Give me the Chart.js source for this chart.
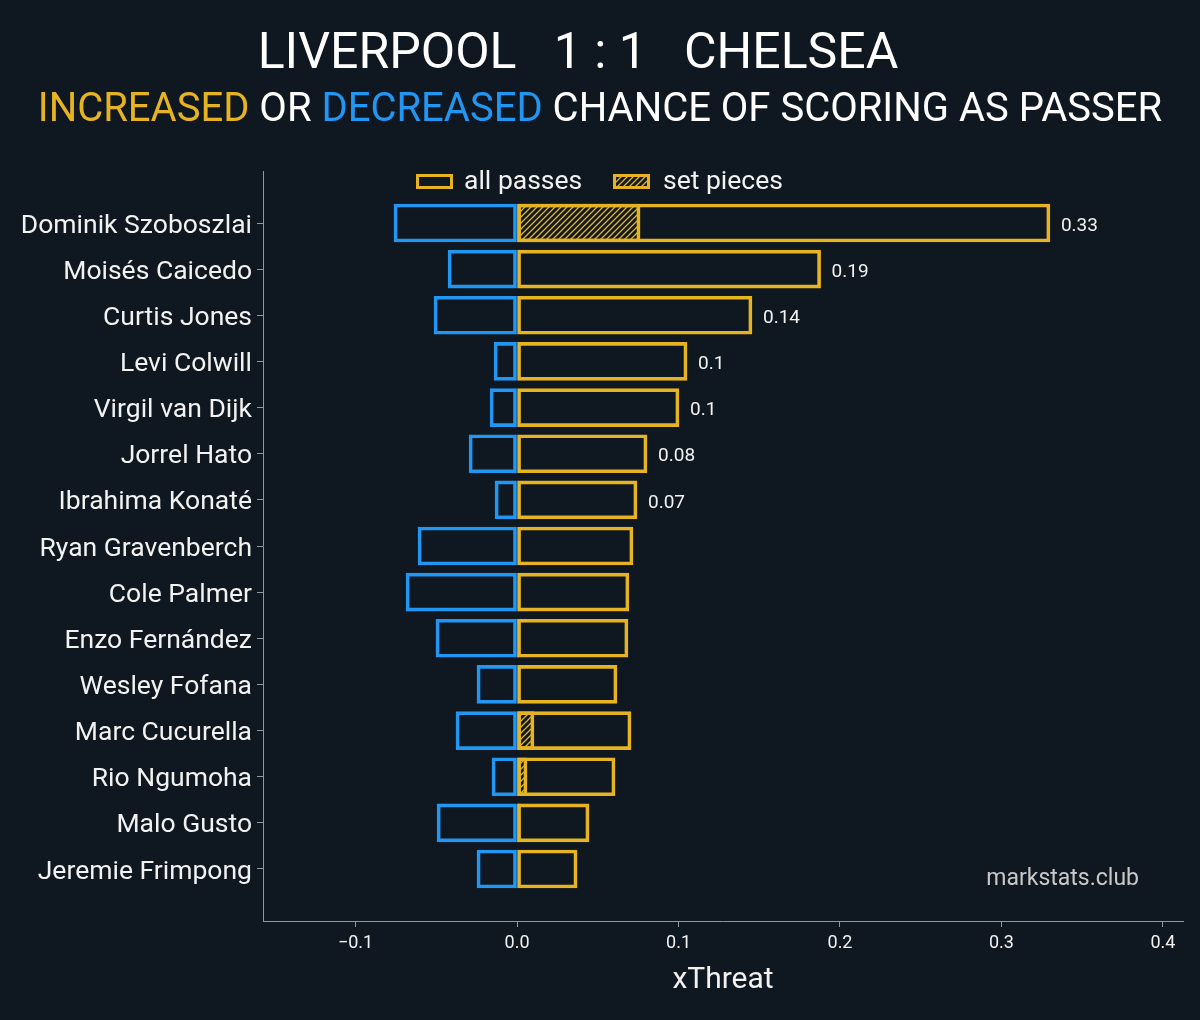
<!DOCTYPE html>
<html>
<head>
<meta charset="utf-8">
<script src="https://cdn.jsdelivr.net/npm/chart.js@4"></script>
<style>
  html, body { margin: 0; padding: 0; background: #0f1820; }
  body { width: 1200px; height: 1020px; position: relative; overflow: hidden; font-family: Roboto, sans-serif; }
  #chart { position: absolute; left: 0; top: 0; }
  .title { position: absolute; left: 0; width: 1156px; top: 26px; text-align: center; font-size: 50px; line-height: 50px; color: #ffffff; white-space: pre; }
  .subtitle { position: absolute; left: 0; width: 1200px; top: 88px; text-align: center; font-size: 40px; line-height: 40px; color: #ffffff; white-space: pre; }
  .gold { color: #e6b422; }
  .blue { color: #2196f3; }
</style>
</head>
<body>
<canvas id="chart" width="1200" height="1020"></canvas>
<div class="title">LIVERPOOL   1 : 1   CHELSEA</div>
<div class="subtitle"><span class="gold">INCREASED</span> OR <span class="blue">DECREASED</span> CHANCE OF SCORING AS PASSER</div>
<script>
const players = ['Dominik Szoboszlai', 'Moisés Caicedo', 'Curtis Jones', 'Levi Colwill', 'Virgil van Dijk',
  'Jorrel Hato', 'Ibrahima Konaté', 'Ryan Gravenberch', 'Cole Palmer', 'Enzo Fernández',
  'Wesley Fofana', 'Marc Cucurella', 'Rio Ngumoha', 'Malo Gusto', 'Jeremie Frimpong'];
const increased = [0.330, 0.188, 0.1455, 0.1053, 0.1003, 0.0805, 0.0743, 0.0718, 0.0693, 0.0687, 0.0619, 0.0706, 0.0607, 0.0446, 0.0372];
const decreased = [-0.0762, -0.0427, -0.0514, -0.0142, -0.0167, -0.0297, -0.0136, -0.0613, -0.0687, -0.0502, -0.0248, -0.0378, -0.0155, -0.0495, -0.0248];
const setPieces = [0.0762, 0, 0, 0, 0, 0, 0, 0, 0, 0.001, 0, 0.0105, 0.0062, 0.002, 0];
const valueLabels = ['0.33', '0.19', '0.14', '0.1', '0.1', '0.08', '0.07', '', '', '', '', '', '', '', ''];
const xTicks = [-0.1, 0, 0.1, 0.2, 0.3, 0.4];

const GOLD = '#e6b422';
const BLUE = '#2196f3';
const AXIS = '#8c9a9c';
const TEXT = '#f2f2f2';
const FONT = 'Roboto, sans-serif';

// diagonal hatch for set pieces
function makeHatch() {
  const s = 6;
  const c = document.createElement('canvas');
  c.width = s; c.height = s;
  const g = c.getContext('2d');
  g.strokeStyle = GOLD;
  g.lineWidth = 1.3;
  g.beginPath();
  g.moveTo(0, s); g.lineTo(s, 0);
  g.moveTo(-1, 1); g.lineTo(1, -1);
  g.moveTo(s - 1, s + 1); g.lineTo(s + 1, s - 1);
  g.stroke();
  return g.createPattern(c, 'repeat');
}
const hatch = makeHatch();

const negData = decreased.map((v, i) => ({ x: [v, 0], y: i }));
const posData = increased.map((v, i) => ({ x: [0, v], y: i }));
const setData = setPieces.map((v, i) => ({ x: [0, v], y: i })).filter(d => d.x[1] > 0);

const barStyle = { borderWidth: 3, borderSkipped: false, barThickness: 38, grouped: false };

const extras = {
  id: 'extras',
  afterDatasetsDraw(chart) {
    const ctx = chart.ctx;
    ctx.save();
    // value labels at the end of the gold bars
    const meta = chart.getDatasetMeta(1);
    ctx.font = '19px ' + FONT;
    ctx.fillStyle = TEXT;
    ctx.textAlign = 'left';
    ctx.textBaseline = 'middle';
    meta.data.forEach((bar, i) => {
      if (valueLabels[i]) ctx.fillText(valueLabels[i], bar.x + 11, bar.y + 3);
    });
    // legend
    ctx.font = '26.5px ' + FONT;
    ctx.lineWidth = 3;
    ctx.strokeStyle = GOLD;
    ctx.strokeRect(417.5, 175.5, 34, 12);
    ctx.fillStyle = TEXT;
    ctx.fillText('all passes', 464, 182);
    ctx.fillStyle = hatch;
    ctx.fillRect(614, 175, 34, 12);
    ctx.strokeRect(614.5, 175.5, 34, 12);
    ctx.fillStyle = TEXT;
    ctx.fillText('set pieces', 663, 182);
    // watermark
    ctx.font = '23px ' + FONT;
    ctx.fillStyle = '#c9c9c9';
    ctx.textAlign = 'right';
    ctx.textBaseline = 'alphabetic';
    ctx.fillText('markstats.club', 1139, 885);
    ctx.restore();
  }
};

new Chart(document.getElementById('chart'), {
  type: 'bar',
  data: {
    datasets: [
      Object.assign({ label: 'decreased', data: negData, borderColor: BLUE, backgroundColor: 'rgba(0,0,0,0)', order: 2 }, barStyle),
      Object.assign({ label: 'all passes', data: posData, borderColor: GOLD, backgroundColor: 'rgba(0,0,0,0)', order: 1 }, barStyle),
      Object.assign({ label: 'set pieces', data: setData, borderColor: GOLD, backgroundColor: hatch, order: 0 }, barStyle)
    ]
  },
  options: {
    indexAxis: 'y',
    responsive: false,
    animation: false,
    devicePixelRatio: 1,
    layout: { padding: { top: 171, right: 17, bottom: 0, left: 0 } },
    plugins: { legend: { display: false }, tooltip: { enabled: false } },
    scales: {
      y: {
        type: 'linear',
        reverse: true,
        offset: false,
        min: -1.127,
        max: 15.127,
        afterBuildTicks: scale => { scale.ticks = players.map((p, i) => ({ value: i })); },
        afterFit: scale => { scale.width = 263; },
        grid: { display: true, offset: false, drawOnChartArea: false, tickLength: 6, color: AXIS },
        border: { color: AXIS, width: 1 },
        ticks: {
          callback: v => players[v],
          color: TEXT,
          padding: 5,
          labelOffset: 3,
          font: { family: FONT, size: 26.5 }
        }
      },
      x: {
        type: 'linear',
        min: -0.1573,
        max: 0.4124,
        afterBuildTicks: scale => { scale.ticks = xTicks.map(v => ({ value: v })); },
        afterFit: scale => { scale.height = 99; },
        grid: { display: true, drawOnChartArea: false, tickLength: 6, color: AXIS },
        border: { color: AXIS, width: 1 },
        ticks: {
          callback: v => v.toFixed(1).replace('-', '\u2212'),
          color: TEXT,
          padding: 6,
          font: { family: FONT, size: 18 }
        },
        title: {
          display: true,
          text: 'xThreat',
          color: TEXT,
          padding: { top: 0, bottom: 22 },
          font: { family: FONT, size: 30 }
        }
      }
    }
  },
  plugins: [extras]
});
</script>
</body>
</html>
